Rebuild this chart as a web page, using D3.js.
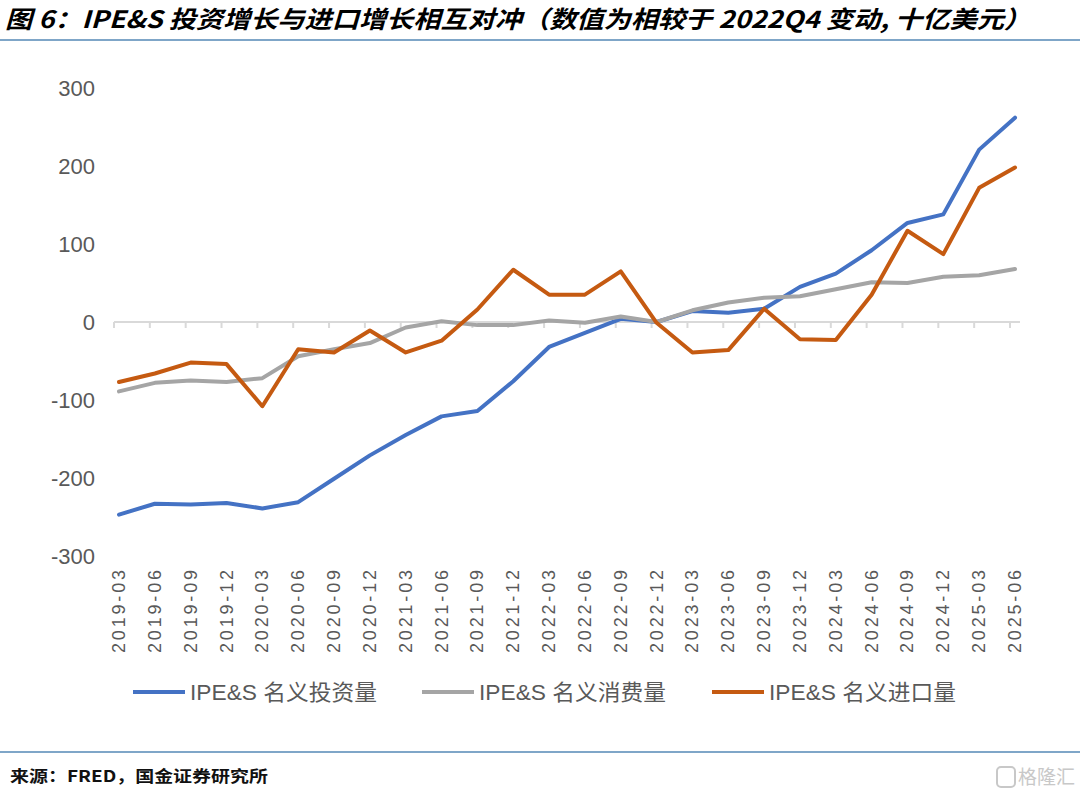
<!DOCTYPE html>
<html><head><meta charset="utf-8">
<script src="https://cdn.jsdelivr.net/npm/d3@7/dist/d3.min.js"></script>
<style>body{margin:0;background:#fff}svg{display:block}</style>
</head><body>
<script>
const categories = ["2019-03","2019-06","2019-09","2019-12","2020-03","2020-06","2020-09","2020-12","2021-03","2021-06","2021-09","2021-12","2022-03","2022-06","2022-09","2022-12","2023-03","2023-06","2023-09","2023-12","2024-03","2024-06","2024-09","2024-12","2025-03","2025-06"];
const investment = [-247,-233,-234,-232,-239,-231,-201,-171,-145,-121,-114,-76,-32,-14,4,0,14,12,17,45,62,92,127,138,221,262];
const consumption = [-89,-78,-75,-77,-72,-44,-35,-27,-7,1,-4,-4,2,-1,7,0,15,25,31,33,42,51,50,58,60,68];
const imports = [-77,-66,-52,-54,-108,-35,-39,-11,-39,-24,16,67,35,35,65,-1,-39,-36,17,-22,-23,35,117,87,172,198];
const yTicks = [300,200,100,0,-100,-200,-300];
const seriesNames = ["IPE&S 名义投资量","IPE&S 名义消费量","IPE&S 名义进口量"];
const seriesColors = ["#4472C4","#A5A5A5","#C55A11"];

const W = 1080, H = 802;
const svg = d3.select("body").append("svg").attr("width", W).attr("height", H);
const font = "'Liberation Sans', Arial, 'Noto Sans CJK SC', sans-serif";

// title
svg.append("text").attr("x", 5).attr("y", 28)
  .attr("font-family", "'Noto Sans CJK SC', sans-serif").attr("font-weight", "bold")
  .attr("font-style", "italic").attr("font-size", 24).attr("fill", "#000")
  .attr("textLength", 1026).attr("lengthAdjust", "spacingAndGlyphs")
  .text("图 6：IPE&S 投资增长与进口增长相互对冲（数值为相较于 2022Q4 变动, 十亿美元）");
svg.append("line").attr("x1", 0).attr("x2", W).attr("y1", 40).attr("y2", 40)
  .attr("stroke", "#7FA6C8").attr("stroke-width", 2);

const x = d3.scalePoint().domain(categories).range([119, 1015]);
const y = d3.scaleLinear().domain([-300, 300]).range([556, 88]);

// y axis labels
const yAxis = d3.axisLeft(y).tickValues(yTicks).tickSize(0).tickPadding(0)
  .tickFormat(d => String(d));
const yg = svg.append("g").attr("transform", "translate(95,0)").call(yAxis);
yg.select(".domain").remove();
yg.selectAll("text").attr("font-family", font).attr("font-size", 22).attr("fill", "#595959")
  .attr("dy", "0.35em");

// x axis line and ticks at zero
const axisG = svg.append("g");
axisG.append("line").attr("x1", x(categories[0]) - 5).attr("x2", x(categories[categories.length-1]) + 5)
  .attr("y1", y(0)).attr("y2", y(0)).attr("stroke", "#D9D9D9").attr("stroke-width", 2);
axisG.selectAll("line.tk").data(categories).enter().append("line").attr("class","tk")
  .attr("x1", d => x(d) - 5).attr("x2", d => x(d) - 5)
  .attr("y1", y(0)).attr("y2", y(0) + 6).attr("stroke", "#D9D9D9").attr("stroke-width", 2);

// x labels (rotated)
svg.append("g").selectAll("text").data(categories).enter().append("text")
  .attr("transform", d => `translate(${x(d) + 6},570) rotate(-90)`)
  .attr("text-anchor", "end").attr("font-family", font).attr("font-size", 18)
  .attr("textLength", 83).attr("lengthAdjust", "spacing")
  .attr("fill", "#595959").text(d => d);

// lines
const line = d3.line().x((d, i) => x(categories[i])).y(d => y(d));
[investment, consumption, imports].forEach((s, k) => {
  svg.append("path").datum(s).attr("d", line).attr("fill", "none")
    .attr("stroke", seriesColors[k]).attr("stroke-width", 4)
    .attr("stroke-linejoin", "round").attr("stroke-linecap", "round");
});

// legend
const legX = [133, 422, 712];
seriesNames.forEach((n, k) => {
  const g = svg.append("g");
  g.append("line").attr("x1", legX[k]).attr("x2", legX[k] + 52).attr("y1", 692).attr("y2", 692)
    .attr("stroke", seriesColors[k]).attr("stroke-width", 4);
  g.append("text").attr("x", legX[k] + 57).attr("y", 700).attr("font-family", font)
    .attr("font-size", 22).attr("fill", "#595959")
    .attr("textLength", 187).attr("lengthAdjust", "spacingAndGlyphs").text(n);
});

// bottom line and source
svg.append("line").attr("x1", 0).attr("x2", W).attr("y1", 752).attr("y2", 752)
  .attr("stroke", "#7FA6C8").attr("stroke-width", 2);
svg.append("text").attr("x", 10).attr("y", 782).attr("font-family", "'Noto Sans CJK SC', sans-serif")
  .attr("font-size", 16).attr("font-weight", "bold").attr("fill", "#111")
  .attr("textLength", 258).attr("lengthAdjust", "spacingAndGlyphs")
  .text("来源：FRED，国金证券研究所");

// watermark
svg.append("rect").attr("x", 997).attr("y", 767).attr("width", 18).attr("height", 20).attr("rx", 4)
  .attr("fill", "none").attr("stroke", "#C8C8C8").attr("stroke-width", 2);
svg.append("text").attr("x", 1018).attr("y", 784).attr("font-family", "'Noto Sans CJK SC', sans-serif")
  .attr("font-size", 19).attr("fill", "#C8C8C8").text("格隆汇");
</script>
</body></html>
